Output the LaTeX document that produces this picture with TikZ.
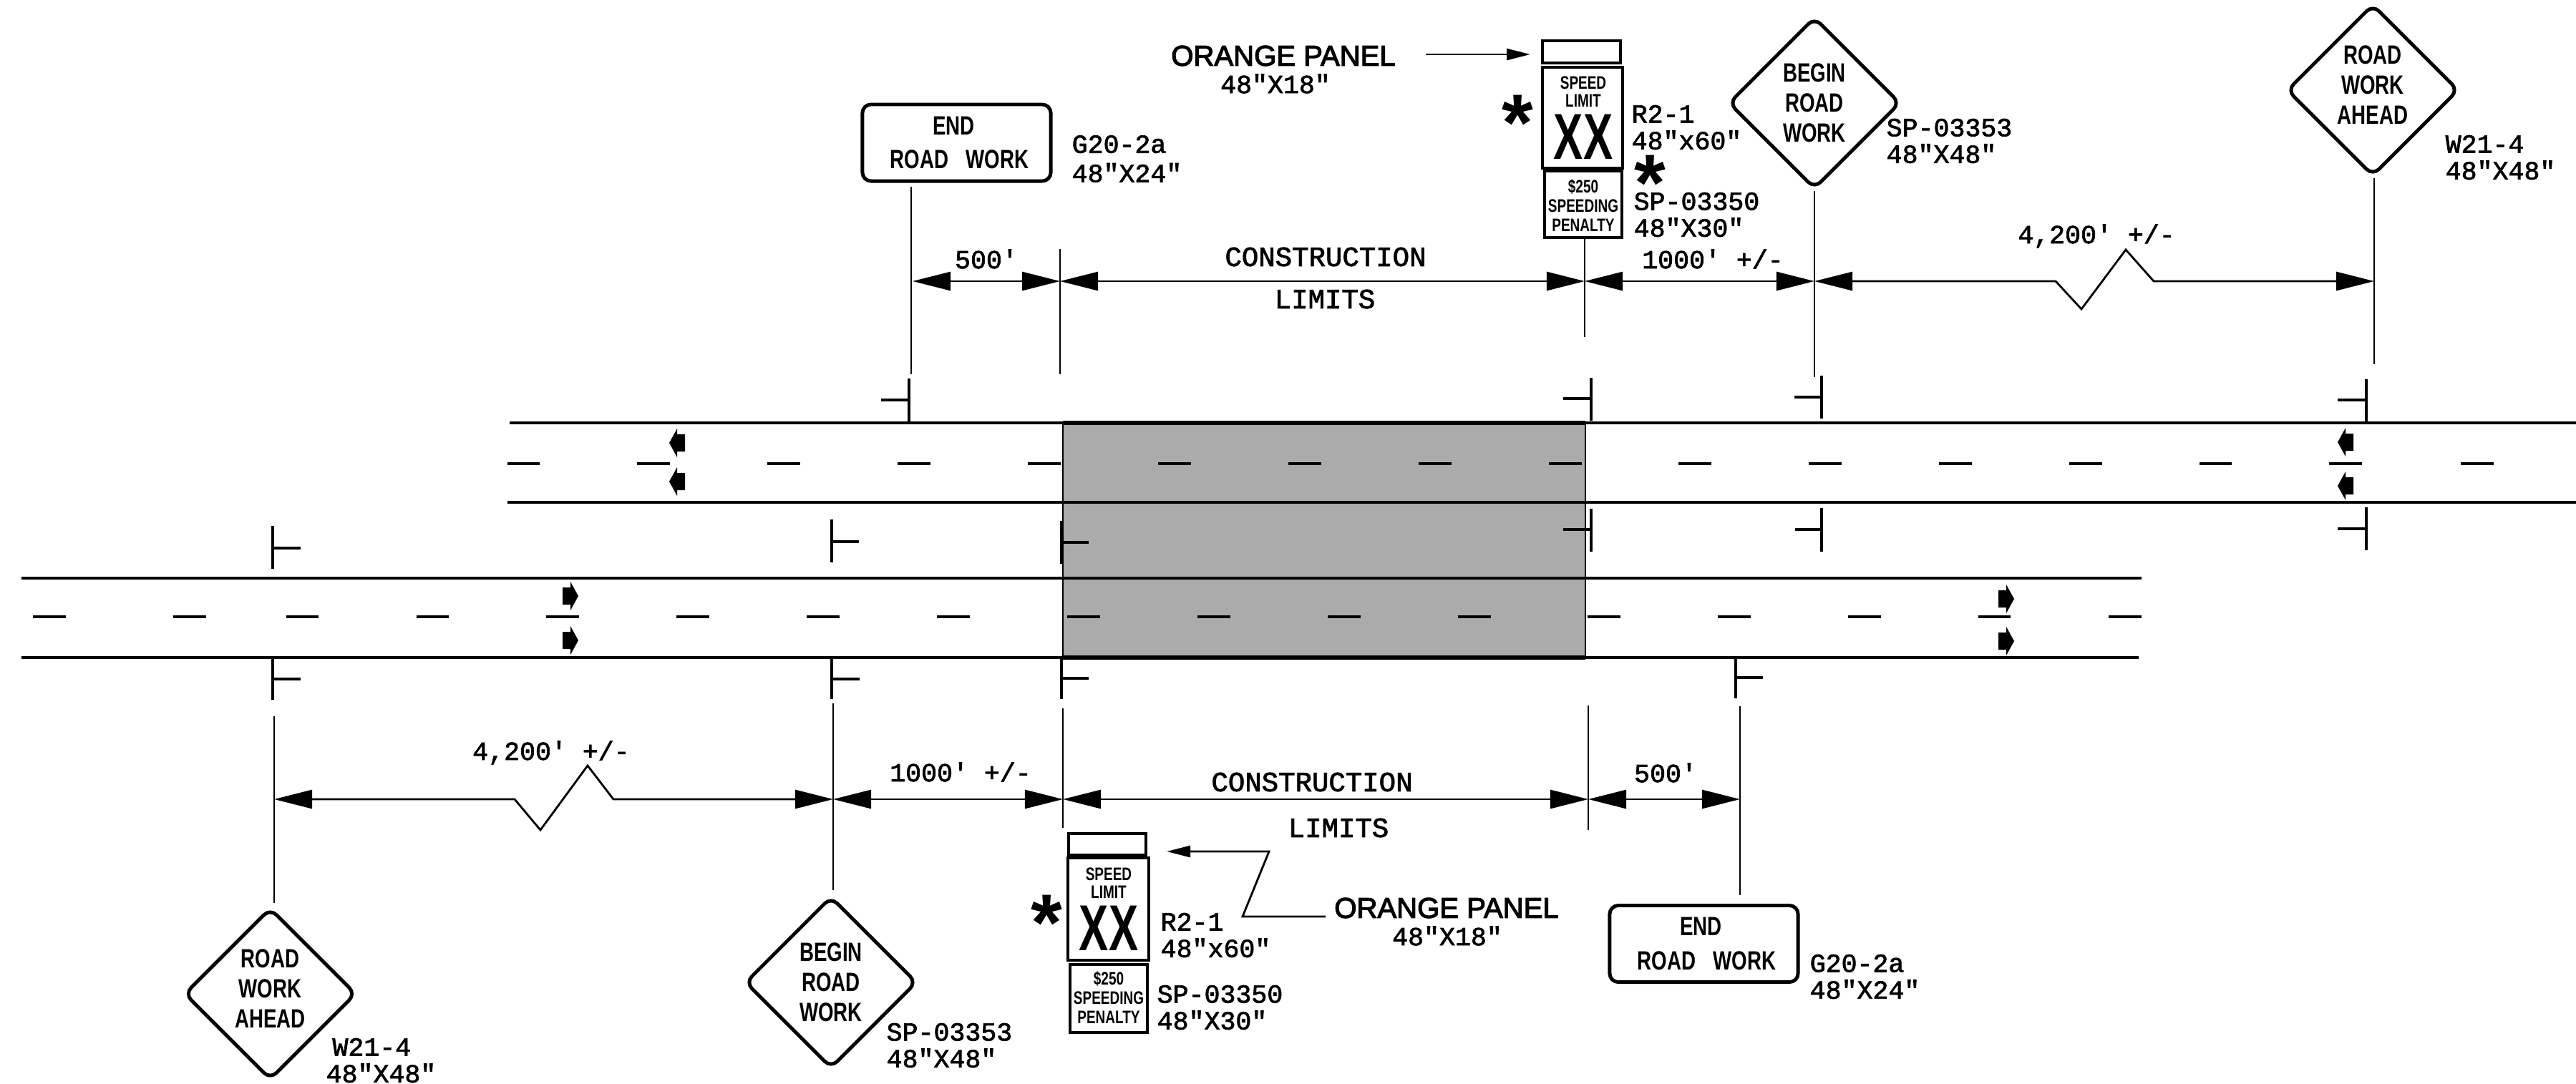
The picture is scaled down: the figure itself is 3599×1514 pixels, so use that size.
\documentclass[tikz,border=0pt]{standalone}
\usepackage{fontspec}
\usetikzlibrary{arrows.meta,shapes.geometric}
\newfontfamily\plotfont[FakeBold=2]{Liberation Mono}
\newfontfamily\panelfont[FakeBold=3]{Liberation Sans}
\newfontfamily\starfont[UprightFont=* Bold]{Liberation Sans}
\newfontfamily\signfont[FakeStretch=0.75,UprightFont=* Bold]{Liberation Sans}
\newfontfamily\xxfont[FakeStretch=0.68,UprightFont=* Bold]{Liberation Sans}
\tikzset{
	roadline/.style={line width=0.9pt},
	laneline/.style={line width=0.95pt},
	tickline/.style={line width=0.95pt},
	postline/.style={line width=0.75pt},
	dimline/.style={line width=0.8pt,{Triangle[length=0.53cm,width=0.26cm]}-{Triangle[length=0.53cm,width=0.26cm]}},
	panelline/.style={line width=0.8pt,-{Triangle[length=0.33cm,width=0.16cm]}},
	plotlabel/.style={font=\plotfont\fontsize{10.4}{10.6}\selectfont,inner sep=0pt,align=left},
	limittext/.style={font=\plotfont\fontsize{11.1}{12}\selectfont,inner sep=0pt},
	paneltext/.style={font=\panelfont\fontsize{11.4}{12}\selectfont,inner sep=0pt},
	signbox/.style={draw,line width=1pt,inner sep=0pt},
	smalltext/.style={font=\signfont\fontsize{7.2}{7.3}\selectfont,inner sep=0pt,align=center},
	xxtext/.style={font=\xxfont\fontsize{25.8}{26}\selectfont,inner sep=0pt},
	startext/.style={font=\starfont\fontsize{32}{32}\selectfont,inner sep=0pt},
	roadsign/.style={draw,line width=1.4pt,rounded corners=0.12cm,inner sep=0pt,minimum width=2.63cm,minimum height=1.07cm,align=center,font=\signfont\fontsize{10.5}{13.6}\selectfont},
	worksign/.style={draw,diamond,aspect=1,line width=1.4pt,rounded corners=0.12cm,inner sep=0pt,minimum size=2.4cm,align=center,font=\signfont\fontsize{10.5}{11.95}\selectfont},
	westlane/.pic={\fill (0,0) -- (11,-20) -- (11,-12) -- (22,-12) -- (22,12) -- (11,12) -- (11,20) -- cycle;},
	eastlane/.pic={\fill (0,0) -- (-11,-20) -- (-11,-12) -- (-22,-12) -- (-22,12) -- (-11,12) -- (-11,20) -- cycle;}
}
\begin{document}
\begin{tikzpicture}[x=0.01cm,y=-0.01cm]
	
	\useasboundingbox (0,0) rectangle (3599,1514);
	
	\fill[black!33] (1485,591) rectangle (2215,919);
	\draw[line width=0.7pt] (1485,591) -- (1485,919);
	\draw[line width=0.7pt] (2215,591) -- (2215,919);
	\draw[line width=1.6pt] (1485,591) -- (2215,591);
	\draw[line width=1.6pt] (1485,919) -- (2215,919);
	
	\draw[roadline] (712,591) -- (3599,591);
	\draw[roadline] (709,702) -- (3599,702);
	\draw[roadline] (30,808) -- (2992,808);
	\draw[roadline] (30,919) -- (2988,919);
	
	\draw[laneline] (709,648) -- (754,648);
	\draw[laneline] (890,648) -- (936,648);
	\draw[laneline] (1072,648) -- (1118,648);
	\draw[laneline] (1254,648) -- (1300,648);
	\draw[laneline] (1436,648) -- (1482,648);
	\draw[laneline] (1618,648) -- (1664,648);
	\draw[laneline] (1800,648) -- (1846,648);
	\draw[laneline] (1982,648) -- (2028,648);
	\draw[laneline] (2164,648) -- (2210,648);
	\draw[laneline] (2345,648) -- (2391,648);
	\draw[laneline] (2527,648) -- (2573,648);
	\draw[laneline] (2709,648) -- (2755,648);
	\draw[laneline] (2891,648) -- (2937,648);
	\draw[laneline] (3073,648) -- (3118,648);
	\draw[laneline] (3254,648) -- (3300,648);
	\draw[laneline] (3438,648) -- (3484,648);
	
	\draw[laneline] (46,862) -- (92,862);
	\draw[laneline] (242,862) -- (288,862);
	\draw[laneline] (400,862) -- (445,862);
	\draw[laneline] (582,862) -- (627,862);
	\draw[laneline] (763,862) -- (809,862);
	\draw[laneline] (945,862) -- (991,862);
	\draw[laneline] (1127,862) -- (1173,862);
	\draw[laneline] (1309,862) -- (1355,862);
	\draw[laneline] (1491,862) -- (1537,862);
	\draw[laneline] (1673,862) -- (1719,862);
	\draw[laneline] (1855,862) -- (1901,862);
	\draw[laneline] (2037,862) -- (2083,862);
	\draw[laneline] (2218,862) -- (2264,862);
	\draw[laneline] (2400,862) -- (2446,862);
	\draw[laneline] (2582,862) -- (2628,862);
	\draw[laneline] (2764,862) -- (2809,862);
	\draw[laneline] (2946,862) -- (2992,862);
	
	\pic at (935,619) {westlane};
	\pic at (935,673) {westlane};
	\pic at (3266,618) {westlane};
	\pic at (3266,679) {westlane};
	\pic at (808,833) {eastlane};
	\pic at (808,895) {eastlane};
	\pic at (2814,837) {eastlane};
	\pic at (2814,896) {eastlane};
	
	\draw[tickline] (1270,529) -- (1270,591);
	\draw[tickline] (1231,559) -- (1270,559);
	\draw[tickline] (2223,528) -- (2223,588);
	\draw[tickline] (2184,557) -- (2223,557);
	\draw[tickline] (2545,525) -- (2545,585);
	\draw[tickline] (2507,555) -- (2545,555);
	\draw[tickline] (3306,530) -- (3306,589);
	\draw[tickline] (3266,559) -- (3306,559);
	
	\draw[tickline] (2223,711) -- (2223,771);
	\draw[tickline] (2184,740) -- (2223,740);
	\draw[tickline] (2545,710) -- (2545,771);
	\draw[tickline] (2508,740) -- (2545,740);
	\draw[tickline] (3306,709) -- (3306,769);
	\draw[tickline] (3266,739) -- (3306,739);
	
	\draw[tickline] (381,735) -- (381,795);
	\draw[tickline] (381,766) -- (420,766);
	\draw[tickline] (1162,726) -- (1162,786);
	\draw[tickline] (1162,757) -- (1200,757);
	\draw[line width=1.3pt] (1483,728) -- (1483,788);
	\draw[line width=1.3pt] (1483,758) -- (1521,758);
	
	\draw[tickline] (381,920) -- (381,978);
	\draw[tickline] (381,949) -- (420,949);
	\draw[tickline] (1162,920) -- (1162,977);
	\draw[tickline] (1162,949) -- (1201,949);
	\draw[tickline] (1483,920) -- (1483,977);
	\draw[tickline] (1483,948) -- (1521,948);
	\draw[tickline] (2425,917) -- (2425,976);
	\draw[tickline] (2425,947) -- (2463,947);
	
	\node[roadsign] (endT) at (1336.5,199.5) {END\hspace*{2.3pt}\\\hspace*{2.3pt}ROAD\hspace{7pt}WORK};
	\node[worksign] (beginT) at (2535,144) {BEGIN\\ROAD\\WORK};
	\node[worksign] (aheadT) at (3315,126) {ROAD\\WORK\\AHEAD\rule[-4pt]{0pt}{4pt}};
	\node[signbox,minimum width=1.09cm,minimum height=0.31cm] (panelT) at (2209.5,72.5) {};
	\node[signbox,minimum width=1.12cm,minimum height=1.41cm] (limitT) at (2211,164.5) {};
	\node[signbox,minimum width=1.08cm,minimum height=0.93cm] (penaltyT) at (2212,285.5) {};
	\node[smalltext] (speedT) at (2212,128) {SPEED\\LIMIT};
	\node[xxtext] (xxT) at (2212,191.5) {XX};
	\node[smalltext] (fineT) at (2212,287) {\$250\\[0.4pt]SPEEDING\\[0.4pt]PENALTY};
	\node[startext] (starA) at (2120,172) {*};
	\node[startext] (starB) at (2305,256) {*};
	
	\node[roadsign] (endB) at (2380.5,1319) {END\hspace*{2.3pt}\\\hspace*{2.3pt}ROAD\hspace{7pt}WORK};
	\node[worksign] (beginB) at (1161,1373) {BEGIN\\ROAD\\WORK};
	\node[worksign] (aheadB) at (377.5,1389) {ROAD\\WORK\\AHEAD\rule[-4pt]{0pt}{4pt}};
	\node[signbox,minimum width=1.08cm,minimum height=0.30cm] (panelB) at (1547,1180) {};
	\node[signbox,minimum width=1.13cm,minimum height=1.43cm] (limitB) at (1548.5,1270.5) {};
	\node[signbox,minimum width=1.08cm,minimum height=0.95cm] (penaltyB) at (1549,1395.5) {};
	\node[smalltext] (speedB) at (1549,1234) {SPEED\\LIMIT};
	\node[xxtext] (xxB) at (1549,1297) {XX};
	\node[smalltext] (fineB) at (1549,1394) {\$250\\[0.4pt]SPEEDING\\[0.4pt]PENALTY};
	\node[startext] (starC) at (1462,1290) {*};
	
	\node[plotlabel,anchor=west] (codeA) at (1497,222) {G20-2a\\[1pt]48"X24"};
	\node[plotlabel,anchor=west] (codeB) at (2279,178) {R2-1\\48"x60"};
	\node[plotlabel,anchor=west] (codeC) at (2282,300) {SP-03350\\48"X30"};
	\node[plotlabel,anchor=west] (codeD) at (2635,197) {SP-03353\\48"X48"};
	\node[plotlabel,anchor=west] (codeE) at (3416,220) {W21-4\\48"X48"};
	\node[plotlabel,anchor=west] (codeF) at (455,1482) {\hspace*{2.5pt}W21-4\\48"X48"};
	\node[plotlabel,anchor=west] (codeG) at (1238,1461) {SP-03353\\48"X48"};
	\node[plotlabel,anchor=west] (codeH) at (1621,1307) {R2-1\\48"x60"};
	\node[plotlabel,anchor=west] (codeI) at (1616,1408) {SP-03350\\48"X30"};
	\node[plotlabel,anchor=west] (codeJ) at (2528,1365) {G20-2a\\48"X24"};
	
	\node[paneltext] (orangeT) at (1793,78) {ORANGE PANEL};
	\node[plotlabel] (orangeTsize) at (1782,117) {48"X18"};
	\node[paneltext] (orangeB) at (2021,1269) {ORANGE PANEL};
	\node[plotlabel] (orangeBsize) at (2022,1308) {48"X18"};
	
	\node[limittext] (consT) at (1852,359) {CONSTRUCTION};
	\node[limittext] (limT) at (1851,418) {LIMITS};
	\node[limittext] (consB) at (1833,1093) {CONSTRUCTION};
	\node[limittext] (limB) at (1870,1157) {LIMITS};
	\node[plotlabel] (lenA) at (1378,362) {500'};
	\node[plotlabel] (lenB) at (2393,362) {1000' +/-};
	\node[plotlabel] (lenC) at (2929,330) {4,200' +/-};
	\node[plotlabel] (lenD) at (770,1052) {4,200' +/-};
	\node[plotlabel] (lenE) at (1342,1079) {1000' +/-};
	\node[plotlabel] (lenF) at (2327,1080) {500'};
	
	\coordinate (pA) at (1273,523);
	\coordinate (pB) at (1481,348);
	\coordinate (pC) at (1481,523);
	\coordinate (pD) at (2214,471);
	\coordinate (pE) at (2535,527);
	\coordinate (pF) at (3317,509);
	\coordinate (qA) at (383,1001);
	\coordinate (qB) at (1164,983);
	\coordinate (qC) at (1485,990);
	\coordinate (qD) at (1485,1157);
	\coordinate (qE) at (2219,986);
	\coordinate (qF) at (2219,1160);
	\coordinate (qG) at (2431,987);
	
	\draw[postline,shorten <=0.05cm] (endT.south -| pA) -- (pA);
	\draw[postline] (pB) -- (pC);
	\draw[postline] (penaltyT.south -| pD) -- (pD);
	\draw[postline] (beginT.south -| pE) -- (pE);
	\draw[postline] (aheadT.south -| pF) -- (pF);
	\draw[postline,shorten >=0.04cm] (qA) -- (aheadB.north -| qA);
	\draw[postline,shorten >=0.06cm] (qB) -- (beginB.north -| qB);
	\draw[postline] (qC) -- (qD);
	\draw[postline] (qE) -- (qF);
	\draw[postline,shorten >=0.12cm] (qG) -- (endB.north -| qG);
	
	\coordinate (dA) at (1275,393);
	\coordinate (dB) at (1481,393);
	\coordinate (dC) at (2214,393);
	\coordinate (dD) at (2535,393);
	\coordinate (dE) at (3317,393);
	\coordinate (eA) at (383,1117);
	\coordinate (eB) at (1164,1117);
	\coordinate (eC) at (1485,1117);
	\coordinate (eD) at (2219,1117);
	\coordinate (eE) at (2431,1117);
	
	\draw[dimline] (dA) -- (dB);
	\draw[dimline] (dB) -- (dC);
	\draw[dimline] (dC) -- (dD);
	\draw[dimline] (dD) -- (2872,393) -- (2908,432) -- (2970,349) -- (3009,393) -- (dE);
	\draw[dimline] (eA) -- (719,1117) -- (755,1160) -- (821,1070) -- (857,1117) -- (eB);
	\draw[dimline] (eB) -- (eC);
	\draw[dimline] (eC) -- (eD);
	\draw[dimline] (eD) -- (eE);
	
	\coordinate (lA) at (1992,76);
	\coordinate (lB) at (2138,76);
	\coordinate (lC) at (1852,1281);
	\coordinate (lD) at (1736,1281);
	\coordinate (lE) at (1773,1190);
	\coordinate (lF) at (1630,1190);
	
	\draw[panelline] (lA) -- (lB);
	\draw[panelline] (lC) -- (lD) -- (lE) -- (lF);
	
\end{tikzpicture}
\end{document}
